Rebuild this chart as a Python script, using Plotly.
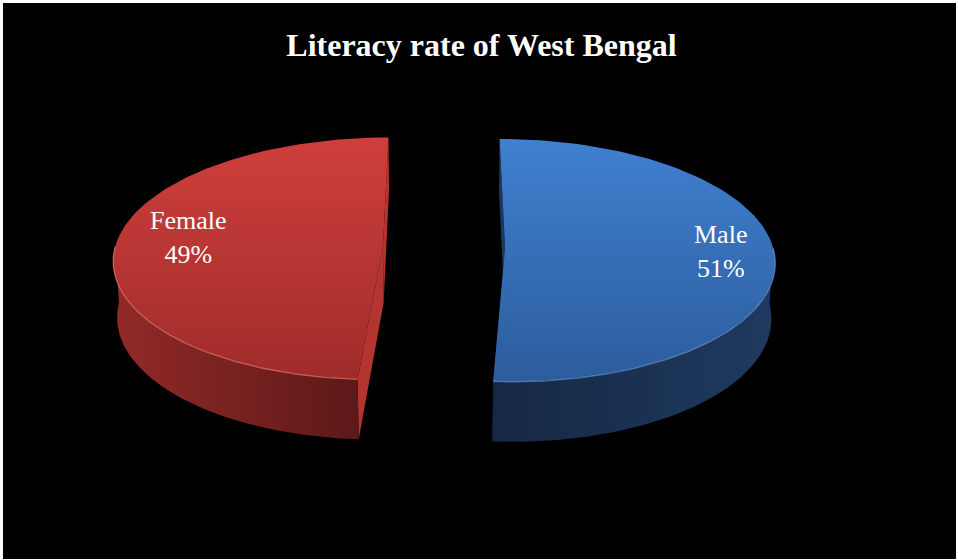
import numpy as np
import plotly.graph_objects as go

# ---------------- data ----------------
categories = ["Male", "Female"]
shares = [51, 49]
title_text = "Literacy rate of West Bengal"

# ---------------- style ----------------
top_colors = {"Male": ["#2c5c9c", "#3f80d0"], "Female": ["#9f2c2a", "#cf3f3c"]}
side_colors = {"Male": ["#152843", "#1f3a60"], "Female": ["#922a28", "#5c1918"]}
face_colors = {"Male": "#1d385c", "Female": "#b4342f"}
edge_colors = {"Male": "rgba(120,165,225,0.55)", "Female": "rgba(240,125,115,0.65)"}
FONT = "Times New Roman, Liberation Serif, serif"

W, H = 958, 560
X0, Y0 = 444.0, H - 247.4      # projected pie centre (pixel-like units, y up)
R = 268.0                       # radius
SINB, COSB = 0.448, 0.894       # view tilt
DIST = 9.0                      # perspective distance
THICK = 0.235                   # pie thickness
EXPLODE = 0.228                 # slice explosion
LABEL_R = {"Male": 0.80, "Female": 0.73}
LABEL_DY = {"Male": 0, "Female": 6}


def proj(u, w, h):
    u = np.asarray(u, float)
    w = np.asarray(w, float)
    h = np.asarray(h, float) * np.ones_like(u)
    z = w * COSB - h * SINB
    s = DIST / (DIST + z)
    return X0 + R * u * s, Y0 + R * (w * SINB + h * COSB) * s


total = float(sum(shares))
slices = []
start = 0.0
for cat, val in zip(categories, shares):
    span = 360.0 * val / total
    a1, a2 = start, start + span
    mid = np.radians((a1 + a2) / 2)
    cu, cw = EXPLODE * np.sin(mid), EXPLODE * np.cos(mid)
    slices.append(dict(cat=cat, val=val, a1=a1, a2=a2, mid=mid, cu=cu, cw=cw))
    start = a2


def arc(sl, b1, b2, h, n=120):
    ang = np.radians(np.linspace(b1, b2, n))
    return proj(sl["cu"] + np.sin(ang), sl["cw"] + np.cos(ang), h)


fig = go.Figure()


def poly(x, y, **kw):
    x = list(x) + [x[0]]
    y = list(y) + [y[0]]
    fig.add_trace(go.Scatter(x=x, y=y, mode="lines", fill="toself",
                             line=dict(width=0), hoverinfo="skip",
                             showlegend=False, **kw))


# 1) radial cut faces
for sl in slices:
    for a in (sl["a1"], sl["a2"]):
        r = np.radians(a)
        u = [sl["cu"], sl["cu"] + np.sin(r), sl["cu"] + np.sin(r), sl["cu"]]
        w = [sl["cw"], sl["cw"] + np.cos(r), sl["cw"] + np.cos(r), sl["cw"]]
        h = [0, 0, -THICK, -THICK]
        x, y = proj(u, w, h)
        poly(x, y, fillcolor=face_colors[sl["cat"]])

# 2) outer rims (front-facing part)
for sl in slices:
    b1, b2 = max(sl["a1"], 90.0), min(sl["a2"], 270.0)
    if b2 <= b1:
        continue
    xt, yt = arc(sl, b1, b2, 0.0)
    xb, yb = arc(sl, b1, b2, -THICK)
    x = np.concatenate([xt, xb[::-1]])
    y = np.concatenate([yt, yb[::-1]])
    poly(x, y, fillcolor=side_colors[sl["cat"]][0],
         fillgradient=dict(type="horizontal",
                           colorscale=[[0, side_colors[sl["cat"]][0]],
                                       [1, side_colors[sl["cat"]][1]]]))

# 3) top surfaces
for sl in slices:
    xa, ya = arc(sl, sl["a1"], sl["a2"], 0.0)
    xc, yc = proj([sl["cu"]], [sl["cw"]], 0.0)
    x = np.concatenate([xc, xa])
    y = np.concatenate([yc, ya])
    poly(x, y, fillcolor=top_colors[sl["cat"]][1],
         fillgradient=dict(type="vertical",
                           colorscale=[[0, top_colors[sl["cat"]][0]],
                                       [1, top_colors[sl["cat"]][1]]]))

# 4) highlight on the front top edge
for sl in slices:
    b1, b2 = max(sl["a1"], 90.0), min(sl["a2"], 270.0)
    if b2 <= b1:
        continue
    xt, yt = arc(sl, b1, b2, 0.0)
    fig.add_trace(go.Scatter(x=xt, y=yt, mode="lines",
                             line=dict(color=edge_colors[sl["cat"]], width=1.3),
                             hoverinfo="skip", showlegend=False))

# labels
for sl in slices:
    lr = LABEL_R[sl["cat"]]
    lx, ly = proj([sl["cu"] + lr * np.sin(sl["mid"])],
                  [sl["cw"] + lr * np.cos(sl["mid"])], 0.0)
    fig.add_annotation(x=float(lx[0]), y=float(ly[0]), xref="x", yref="y",
                       yshift=LABEL_DY[sl["cat"]],
                       text=f"{sl['cat']}<br>{sl['val']}%", showarrow=False,
                       xanchor="center", yanchor="middle",
                       font=dict(family=FONT, size=26, color="white"))

fig.update_layout(
    width=W, height=H,
    margin=dict(l=3, r=2, t=3, b=1, pad=0),
    paper_bgcolor="white", plot_bgcolor="black",
    title=dict(text=title_text, x=481.5 / W, xanchor="center",
               y=1 - 45 / H, yanchor="middle", yref="container",
               font=dict(family=FONT, size=32, color="white", weight="bold")),
    xaxis=dict(range=[3, 956], visible=False, fixedrange=True),
    yaxis=dict(range=[1, 557], visible=False, fixedrange=True),
    showlegend=False,
)

fig.write_html("out.html")
